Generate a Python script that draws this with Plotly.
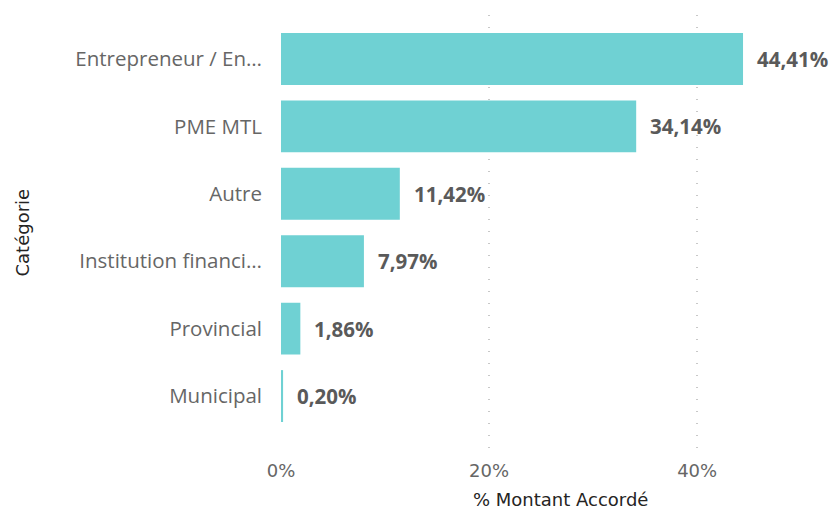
import plotly.graph_objects as go

categories = ["Entrepreneur / En…", "PME MTL", "Autre", "Institution financi…", "Provincial", "Municipal"]
values = [44.41, 34.14, 11.42, 7.97, 1.86, 0.20]
tick_vals = [0, 20, 40]
tick_text = ["0%", "20%", "40%"]

fig = go.Figure(go.Bar(
    x=values, y=categories, orientation="h",
    marker=dict(color="#6FD1D3", line=dict(width=0)),
    hoverinfo="skip",
))

label_font = dict(family="Open Sans, DejaVu Sans", size=20.5, color="#5a5a5a", weight="bold")
for v, c in zip(values, categories):
    fig.add_annotation(
        x=v, y=c, xref="x", yref="y",
        text=f"{v:.2f}%".replace(".", ","),
        showarrow=False, xanchor="left", yanchor="middle",
        xshift=12, font=label_font,
    )

title_font = dict(family="DejaVu Sans", size=18, color="#252423")
fig.add_annotation(
    x=0, y=0.5, xref="paper", yref="paper", xshift=-259,
    text="Catégorie", textangle=-90, showarrow=False,
    xanchor="center", yanchor="middle", font=title_font,
)
fig.add_annotation(
    x=0.516, y=0, xref="paper", yref="paper", yshift=-49,
    text="% Montant Accordé", showarrow=False,
    xanchor="center", yanchor="middle", font=title_font,
)

fig.update_layout(
    width=834, height=511,
    margin=dict(l=281, r=12, t=15, b=61),
    plot_bgcolor="white", paper_bgcolor="white",
    separators=",.",
    bargap=0.23,
    showlegend=False,
)
fig.update_xaxes(
    range=[0, 52], tickvals=tick_vals, ticktext=tick_text,
    showgrid=True, gridcolor="#c8c8c8", griddash="1px,11px", gridwidth=1.5,
    zeroline=False, showline=False, automargin=False,
    tickfont=dict(family="DejaVu Sans", size=18, color="#666666"),
    ticks="", ticklabelstandoff=8,
)
fig.update_yaxes(
    categoryorder="array", categoryarray=categories,
    range=[5.8, -0.652], automargin=False,
    showgrid=False, zeroline=False, showline=False, ticks="",
    tickfont=dict(family="Open Sans, DejaVu Sans", size=20.5, color="#666666"),
    ticklabelstandoff=18,
)

fig.write_html(
    "out.html",
    config={"displayModeBar": False},
    post_script="document.body.style.margin='0';document.body.style.overflow='hidden';",
)
